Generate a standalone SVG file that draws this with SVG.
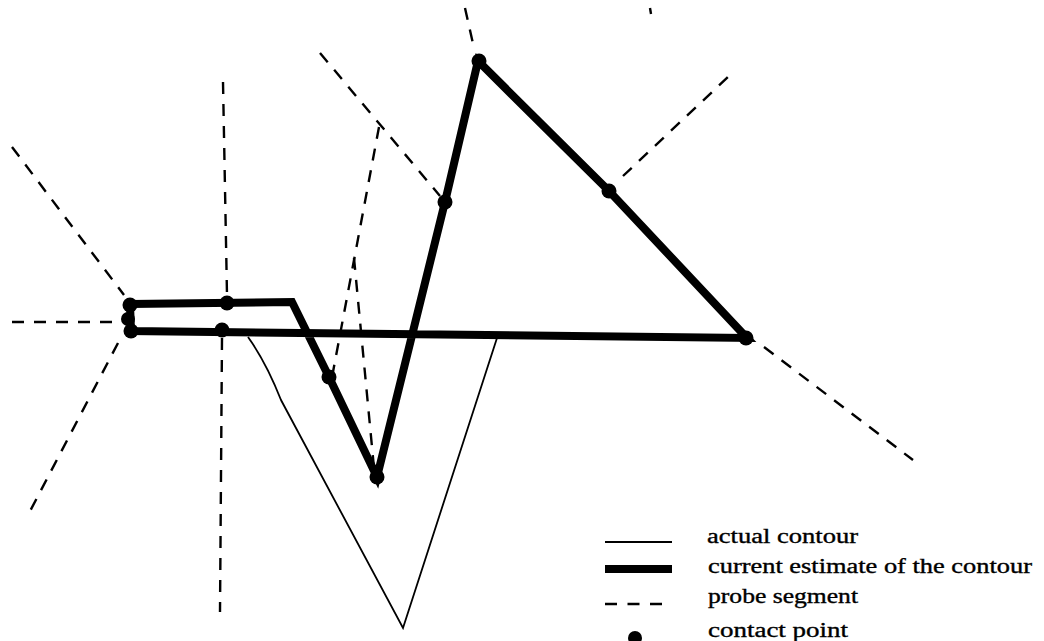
<svg xmlns="http://www.w3.org/2000/svg" width="1044" height="641" viewBox="0 0 1044 641">
<style>
.probe{fill:none;stroke:#000;stroke-width:2.4;stroke-dasharray:12 10}
.actual{fill:none;stroke:#000;stroke-width:1.8}
.estimate{fill:none;stroke:#000;stroke-width:8;stroke-linejoin:miter}
.contact{fill:#000}
.lbl{font-family:"Liberation Serif",serif;font-size:20px;fill:#000;stroke:#000;stroke-width:0.35}
</style>
<rect width="1044" height="641" fill="#fff"/>
<g id="probes">
<line class="probe" x1="12" y1="322" x2="112" y2="322"/>
<line class="probe" x1="12" y1="147" x2="124" y2="295"/>
<line class="probe" x1="118" y1="343" x2="28" y2="515"/>
<line class="probe" x1="223" y1="82" x2="227" y2="295"/>
<line class="probe" x1="222" y1="338" x2="220" y2="612"/>
<line class="probe" x1="320" y1="53" x2="440" y2="196"/>
<line class="probe" x1="379" y1="127" x2="333" y2="372"/>
<line class="probe" x1="354" y1="258" x2="374" y2="468"/>
<line class="probe" x1="465" y1="8" x2="474" y2="48"/>
<line class="probe" x1="623" y1="176" x2="728" y2="77"/>
<line class="probe" x1="764" y1="347" x2="913" y2="460"/>
<line class="probe" x1="650" y1="8" x2="651" y2="14" stroke-dasharray="none"/>
</g>
<g id="actual-contour">
<path class="actual" d="M248,337 Q266,362 281,400 L403,628 L497,338"/>
</g>
<g id="estimate-contour">
<polygon class="estimate" points="130,304 292,302 329,377 377,477 445,202 478,61 609,191 747,338 131,331"/>
</g>
<g id="contact-points">
<circle class="contact" cx="130" cy="305" r="7.5"/>
<circle class="contact" cx="128" cy="319" r="7"/>
<circle class="contact" cx="131" cy="331" r="7.5"/>
<circle class="contact" cx="227" cy="303" r="7.5"/>
<circle class="contact" cx="222" cy="330" r="7.5"/>
<circle class="contact" cx="329" cy="377" r="7.5"/>
<circle class="contact" cx="377" cy="477" r="7.5"/>
<circle class="contact" cx="445" cy="202" r="7.5"/>
<circle class="contact" cx="479" cy="61" r="7.5"/>
<circle class="contact" cx="609" cy="191" r="7.5"/>
<circle class="contact" cx="746" cy="338" r="7.5"/>
</g>
<g id="legend">
<line class="actual" x1="605" y1="542" x2="672" y2="542"/>
<line x1="605" y1="569" x2="672" y2="569" stroke="#000" stroke-width="8"/>
<line x1="605" y1="604" x2="662" y2="604" stroke="#000" stroke-width="2.4" stroke-dasharray="12 10.5"/>
<circle class="contact" cx="635" cy="638" r="7"/>
<text class="lbl" x="707" y="543" textLength="151" lengthAdjust="spacingAndGlyphs">actual contour</text>
<text class="lbl" x="708" y="573" textLength="324" lengthAdjust="spacingAndGlyphs">current estimate of the contour</text>
<text class="lbl" x="708" y="603" textLength="150" lengthAdjust="spacingAndGlyphs">probe segment</text>
<text class="lbl" x="708" y="637" textLength="140" lengthAdjust="spacingAndGlyphs">contact point</text>
</g>
</svg>
